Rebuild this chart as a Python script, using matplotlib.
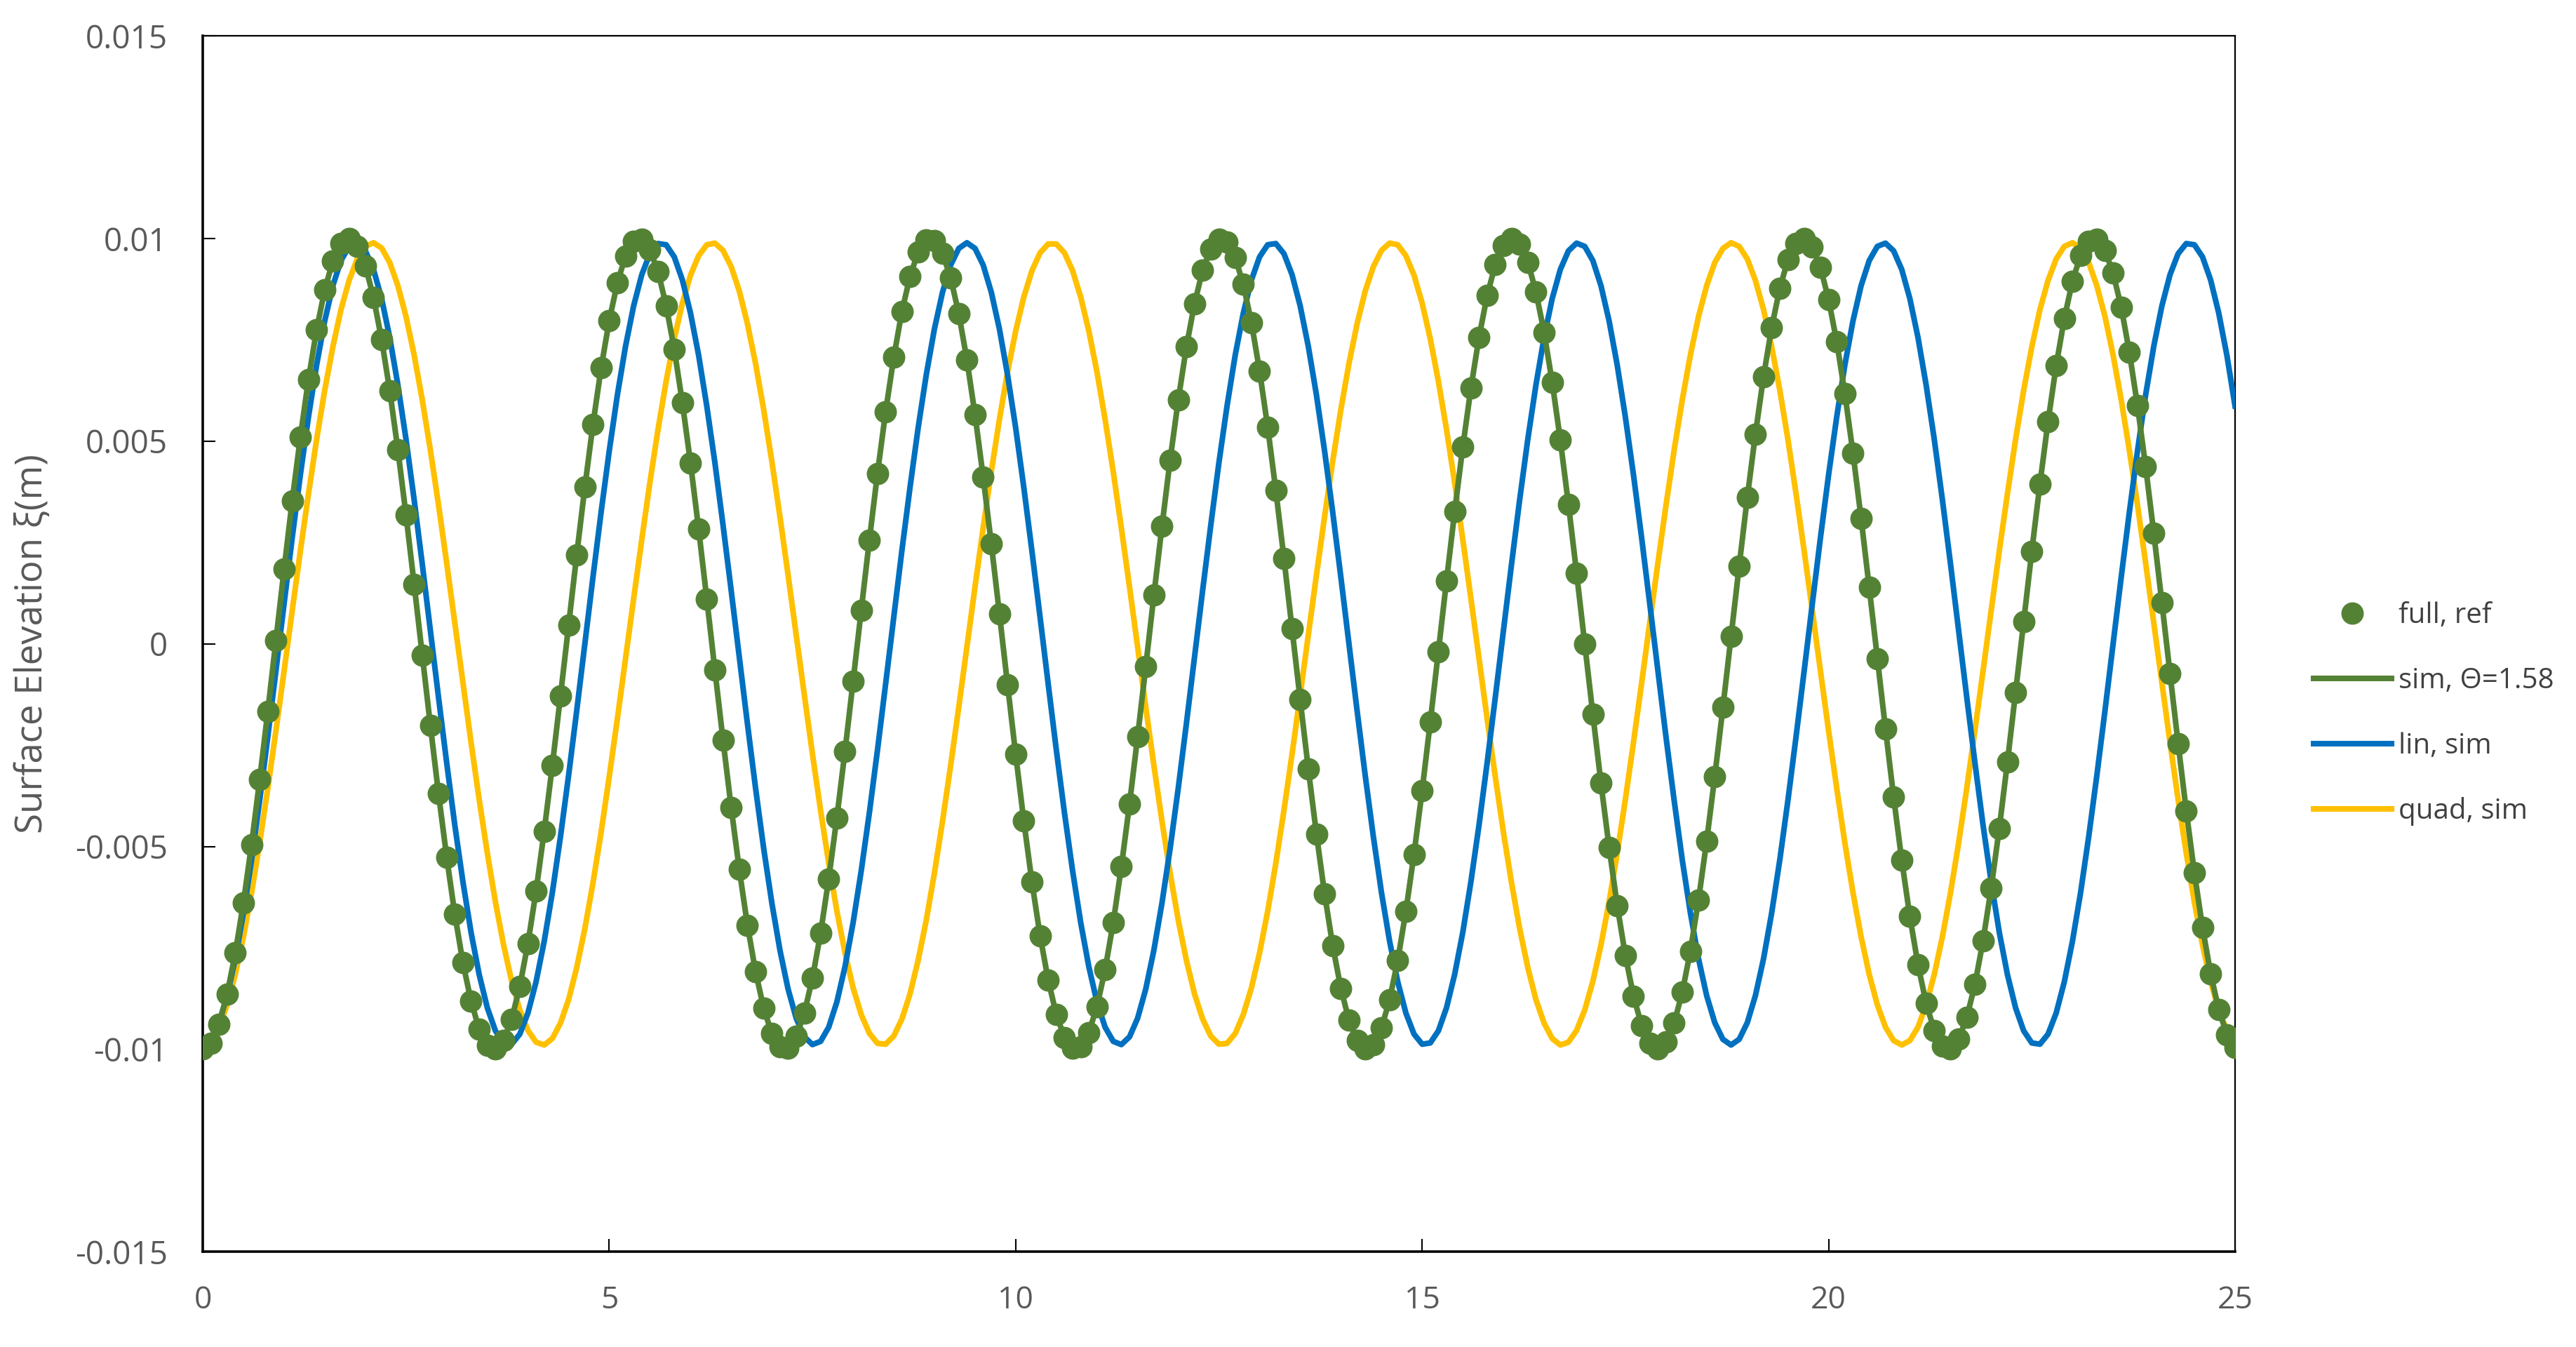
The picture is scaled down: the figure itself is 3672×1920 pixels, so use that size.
"""Surface elevation: reference vs. simulated wave records (0-25 s)."""

import matplotlib

matplotlib.use("Agg")

import matplotlib.pyplot as plt
import numpy as np

# sample times, 0.1 s apart (shared by every series)
time_s = np.linspace(0.0, 25.0, 251)

# surface elevation values, in mm
full_ref_mm = [
    -10.00, -9.85, -9.39, -8.64, -7.63, -6.39, -4.95, -3.35, -1.66, 0.09,
    1.84, 3.53, 5.10, 6.53, 7.75, 8.74, 9.45, 9.88, 10.00, 9.81,
    9.33, 8.55, 7.51, 6.25, 4.79, 3.18, 1.47, -0.28, -2.02, -3.70,
    -5.26, -6.67, -7.87, -8.82, -9.51, -9.90, -9.99, -9.78, -9.26, -8.45,
    -7.39, -6.10, -4.62, -3.00, -1.29, 0.46, 2.20, 3.87, 5.42, 6.81,
    7.98, 8.91, 9.57, 9.93, 9.98, 9.73, 9.19, 8.35, 7.27, 5.95,
    4.46, 2.83, 1.11, -0.65, -2.38, -4.04, -5.57, -6.94, -8.09, -8.99,
    -9.62, -9.95, -9.97, -9.69, -9.11, -8.25, -7.14, -5.80, -4.29, -2.65,
    -0.92, 0.83, 2.56, 4.21, 5.73, 7.07, 8.20, 9.07, 9.67, 9.97,
    9.96, 9.64, 9.03, 8.15, 7.01, 5.65, 4.12, 2.47, 0.74, -1.01,
    -2.73, -4.37, -5.88, -7.20, -8.30, -9.15, -9.71, -9.98, -9.94, -9.59,
    -8.95, -8.04, -6.88, -5.50, -3.96, -2.29, -0.56, 1.20, 2.91, 4.54,
    6.02, 7.33, 8.40, 9.22, 9.75, 9.99, 9.92, 9.54, 8.87, 7.93,
    6.74, 5.35, 3.79, 2.11, 0.37, -1.38, -3.09, -4.70, -6.17, -7.45,
    -8.50, -9.29, -9.79, -10.00, -9.89, -9.48, -8.78, -7.81, -6.60, -5.19,
    -3.62, -1.93, -0.19, 1.56, 3.26, 4.86, 6.31, 7.57, 8.60, 9.36,
    9.83, 10.00, 9.86, 9.42, 8.69, 7.69, 6.46, 5.03, 3.44, 1.75,
    0.00, -1.74, -3.44, -5.02, -6.46, -7.69, -8.69, -9.42, -9.86, -10.00,
    -9.83, -9.36, -8.60, -7.58, -6.32, -4.87, -3.27, -1.57, 0.18, 1.92,
    3.61, 5.18, 6.60, 7.81, 8.78, 9.48, 9.89, 10.00, 9.80, 9.29,
    8.50, 7.46, 6.18, 4.71, 3.10, 1.39, -0.36, -2.10, -3.78, -5.34,
    -6.73, -7.92, -8.87, -9.54, -9.92, -9.99, -9.76, -9.22, -8.41, -7.33,
    -6.03, -4.55, -2.92, -1.20, 0.55, 2.29, 3.95, 5.49, 6.87, 8.03,
    8.95, 9.59, 9.94, 9.98, 9.71, 9.15, 8.31, 7.20, 5.88, 4.38,
    2.74, 1.02, -0.73, -2.46, -4.12, -5.65, -7.00, -8.14, -9.03, -9.64,
    -9.96,
]

# the theta = 1.58 simulation lies on top of the reference record
sim_theta_mm = list(full_ref_mm)

lin_sim_mm = [
    -9.90, -9.76, -9.35, -8.68, -7.77, -6.64, -5.33, -3.86, -2.29, -0.66,
    0.99, 2.62, 4.17, 5.60, 6.88, 7.97, 8.84, 9.46, 9.81, 9.89,
    9.70, 9.24, 8.52, 7.56, 6.39, 5.05, 3.56, 1.97, 0.33, -1.32,
    -2.93, -4.47, -5.87, -7.12, -8.16, -8.98, -9.55, -9.85, -9.88, -9.63,
    -9.11, -8.34, -7.34, -6.14, -4.76, -3.25, -1.65, 0.00, 1.65, 3.25,
    4.76, 6.14, 7.34, 8.34, 9.11, 9.63, 9.88, 9.85, 9.55, 8.98,
    8.16, 7.12, 5.87, 4.47, 2.93, 1.32, -0.33, -1.97, -3.56, -5.05,
    -6.39, -7.56, -8.52, -9.24, -9.70, -9.89, -9.81, -9.46, -8.84, -7.97,
    -6.88, -5.60, -4.17, -2.62, -0.99, 0.66, 2.30, 3.86, 5.33, 6.64,
    7.77, 8.68, 9.35, 9.76, 9.90, 9.76, 9.35, 8.68, 7.77, 6.64,
    5.33, 3.86, 2.29, 0.66, -0.99, -2.62, -4.17, -5.60, -6.88, -7.97,
    -8.84, -9.46, -9.81, -9.89, -9.70, -9.24, -8.52, -7.56, -6.39, -5.05,
    -3.56, -1.97, -0.33, 1.32, 2.93, 4.47, 5.87, 7.12, 8.16, 8.98,
    9.55, 9.85, 9.88, 9.63, 9.11, 8.34, 7.34, 6.14, 4.76, 3.25,
    1.65, 0.00, -1.65, -3.25, -4.76, -6.14, -7.34, -8.34, -9.11, -9.63,
    -9.88, -9.85, -9.55, -8.98, -8.16, -7.12, -5.87, -4.47, -2.93, -1.32,
    0.33, 1.97, 3.56, 5.05, 6.39, 7.56, 8.52, 9.24, 9.70, 9.89,
    9.81, 9.46, 8.84, 7.97, 6.88, 5.60, 4.17, 2.62, 0.99, -0.66,
    -2.30, -3.86, -5.33, -6.64, -7.77, -8.68, -9.35, -9.76, -9.90, -9.76,
    -9.35, -8.68, -7.77, -6.64, -5.33, -3.86, -2.29, -0.66, 0.99, 2.62,
    4.17, 5.60, 6.88, 7.97, 8.84, 9.46, 9.81, 9.89, 9.70, 9.24,
    8.52, 7.56, 6.39, 5.05, 3.56, 1.97, 0.33, -1.32, -2.93, -4.47,
    -5.87, -7.12, -8.16, -8.98, -9.55, -9.85, -9.88, -9.63, -9.11, -8.34,
    -7.34, -6.14, -4.76, -3.25, -1.65, 0.00, 1.65, 3.25, 4.76, 6.14,
    7.34, 8.34, 9.11, 9.63, 9.88, 9.85, 9.55, 8.98, 8.16, 7.12,
    5.87,
]

quad_sim_mm = [
    -9.90, -9.79, -9.46, -8.91, -8.16, -7.23, -6.14, -4.91, -3.56, -2.14,
    -0.67, 0.82, 2.29, 3.70, 5.04, 6.26, 7.33, 8.25, 8.97, 9.50,
    9.81, 9.90, 9.77, 9.41, 8.84, 8.08, 7.13, 6.02, 4.78, 3.43,
    2.00, 0.52, -0.97, -2.43, -3.84, -5.16, -6.37, -7.43, -8.33, -9.04,
    -9.54, -9.83, -9.90, -9.74, -9.36, -8.78, -7.99, -7.03, -5.90, -4.65,
    -3.28, -1.85, -0.37, 1.11, 2.57, 3.98, 5.29, 6.48, 7.53, 8.41,
    9.10, 9.58, 9.85, 9.89, 9.71, 9.31, 8.71, 7.90, 6.92, 5.78,
    4.51, 3.14, 1.70, 0.22, -1.26, -2.72, -4.11, -5.41, -6.59, -7.62,
    -8.49, -9.15, -9.61, -9.86, -9.88, -9.68, -9.26, -8.64, -7.81, -6.82,
    -5.66, -4.38, -3.00, -1.56, -0.07, 1.41, 2.86, 4.25, 5.54, 6.71,
    7.72, 8.56, 9.21, 9.65, 9.87, 9.87, 9.65, 9.21, 8.56, 7.72,
    6.71, 5.54, 4.25, 2.86, 1.41, -0.07, -1.56, -3.00, -4.38, -5.66,
    -6.82, -7.81, -8.64, -9.26, -9.68, -9.88, -9.86, -9.62, -9.15, -8.49,
    -7.63, -6.60, -5.42, -4.11, -2.72, -1.26, 0.22, 1.70, 3.14, 4.51,
    5.78, 6.92, 7.90, 8.71, 9.31, 9.71, 9.89, 9.85, 9.58, 9.10,
    8.41, 7.53, 6.48, 5.29, 3.98, 2.58, 1.12, -0.37, -1.85, -3.28,
    -4.65, -5.90, -7.03, -7.99, -8.78, -9.36, -9.74, -9.90, -9.83, -9.54,
    -9.04, -8.33, -7.43, -6.37, -5.16, -3.84, -2.43, -0.97, 0.52, 1.99,
    3.42, 4.78, 6.02, 7.13, 8.08, 8.84, 9.41, 9.76, 9.90, 9.81,
    9.50, 8.97, 8.25, 7.33, 6.26, 5.04, 3.70, 2.29, 0.82, -0.67,
    -2.14, -3.56, -4.91, -6.14, -7.23, -8.16, -8.91, -9.46, -9.79, -9.90,
    -9.79, -9.46, -8.91, -8.16, -7.23, -6.14, -4.91, -3.56, -2.14, -0.67,
    0.82, 2.29, 3.70, 5.04, 6.26, 7.33, 8.25, 8.97, 9.50, 9.81,
    9.90, 9.77, 9.41, 8.84, 8.08, 7.13, 6.02, 4.78, 3.43, 2.00,
    0.52, -0.97, -2.43, -3.84, -5.16, -6.37, -7.43, -8.33, -9.04, -9.54,
    -9.83,
]

series_labels = ["full, ref", "sim, \u0398=1.58", "lin, sim", "quad, sim"]
x_ticks = [0, 5, 10, 15, 20, 25]
y_ticks = [0.015, 0.01, 0.005, 0.0, -0.005, -0.01, -0.015]
y_tick_labels = ["0.015", "0.01", "0.005", "0", "-0.005", "-0.01", "-0.015"]

GREEN = "#548235"
BLUE = "#0070C0"
YELLOW = "#FFC000"
GREY = "#595959"

plt.rcParams["font.family"] = ["Open Sans", "DejaVu Sans"]

MM = 1e-3

fig = plt.figure(figsize=(36.73, 19.2), dpi=100)
ax = fig.add_axes([0.0787, 0.0708, 0.7887, 0.9024])

ax.plot(time_s, np.array(quad_sim_mm) * MM, color=YELLOW, lw=5.8,
        label=series_labels[3], zorder=2)
ax.plot(time_s, np.array(lin_sim_mm) * MM, color=BLUE, lw=5.8,
        label=series_labels[2], zorder=3)
ax.plot(time_s, np.array(sim_theta_mm) * MM, color=GREEN, lw=5.8,
        label=series_labels[1], zorder=4)
ax.plot(time_s, np.array(full_ref_mm) * MM, "o", ls="none", color=GREEN,
        ms=22, label=series_labels[0], zorder=5)

ax.set_xlim(0, 25)
ax.set_ylim(-0.015, 0.015)
ax.set_xticks(x_ticks)
ax.set_xticklabels([str(v) for v in x_ticks])
ax.set_yticks(y_ticks)
ax.set_yticklabels(y_tick_labels)

ax.tick_params(direction="in", length=13, width=1.5, colors="black",
               labelcolor=GREY, labelsize=32, pad=34)
ax.tick_params(axis="y", pad=36, labelsize=33)

for side in ["left", "bottom"]:
    ax.spines[side].set_linewidth(2.6)
for side in ["top", "right"]:
    ax.spines[side].set_linewidth(1.6)
for spine in ax.spines.values():
    spine.set_color("black")

ax.set_ylabel("Surface Elevation \u03be(m)", fontsize=38, color=GREY)
ax.yaxis.set_label_coords(-0.0745, 0.5)

handles, labels = ax.get_legend_handles_labels()
order = [labels.index(name) for name in series_labels]
fig.legend(
    [handles[i] for i in order],
    [labels[i] for i in order],
    loc="center left",
    bbox_to_anchor=(3298 / 3673, 0.4700),
    frameon=False,
    borderpad=0,
    borderaxespad=0,
    handlelength=2.75,
    handletextpad=0.25,
    labelspacing=1.3,
    fontsize=29,
    labelcolor="#404040",
)

fig.savefig("out.png", dpi=100)
plt.close(fig)
